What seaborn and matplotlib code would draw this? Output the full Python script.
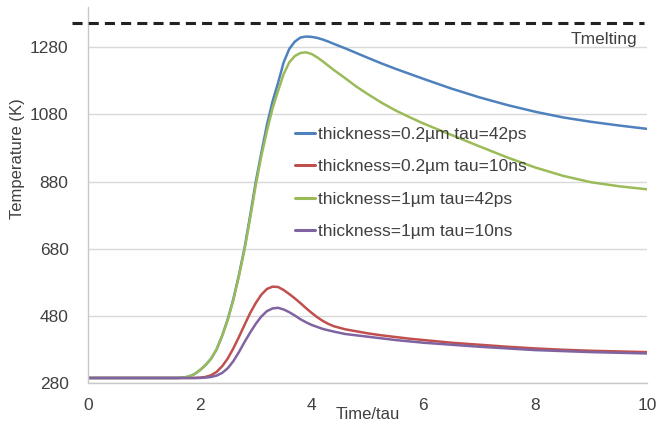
import matplotlib
matplotlib.use("Agg")
import matplotlib.pyplot as plt
import seaborn as sns
import pandas as pd

# Normalised time t/tau
time_tau = [0, 0.5, 1.0, 1.4, 1.6, 1.7, 1.8, 1.9, 2.0, 2.1, 2.2, 2.3, 2.4, 2.5,
            2.6, 2.7, 2.8, 2.9, 3.0, 3.1, 3.2, 3.3, 3.4, 3.5, 3.6, 3.7, 3.8,
            3.9, 4.0, 4.1, 4.2, 4.3, 4.4, 4.6, 4.8, 5.0, 5.25, 5.5, 5.75, 6.0,
            6.5, 7.0, 7.5, 8.0, 8.5, 9.0, 9.5, 10.0]

# Surface temperature (K) for each film / pulse combination
temp_02um_42ps = [295, 295, 295, 295, 295, 296, 299, 306, 318, 333, 352, 380,
                  421, 470, 530, 602, 682, 778, 878, 965, 1048, 1118, 1174,
                  1235, 1275, 1297, 1309, 1312, 1311, 1308, 1303, 1297, 1290,
                  1277, 1263, 1249, 1232, 1216, 1201, 1186, 1157, 1131, 1108,
                  1088, 1071, 1058, 1047, 1037]
temp_02um_10ns = [295, 295, 295, 295, 295, 295, 295, 295, 296, 298, 303, 313,
                  330, 353, 383, 417, 453, 488, 518, 543, 560, 567, 566, 557,
                  545, 532, 518, 503, 489, 476, 465, 456, 449, 440, 434, 428,
                  422, 417, 412, 408, 400, 394, 388, 383, 379, 376, 374, 372]
temp_1um_42ps = [295, 295, 295, 295, 295, 296, 299, 306, 318, 333, 352, 380,
                 420, 468, 527, 598, 677, 770, 868, 955, 1030, 1097, 1150,
                 1200, 1235, 1254, 1263, 1265, 1260, 1250, 1238, 1225, 1212,
                 1188, 1163, 1141, 1115, 1092, 1072, 1053, 1019, 985, 952,
                 922, 897, 878, 866, 857]
temp_1um_10ns = [295, 295, 295, 295, 295, 295, 295, 295, 295, 296, 298, 302,
                 310, 324, 345, 372, 402, 430, 456, 478, 494, 502, 504, 499,
                 491, 481, 470, 461, 453, 447, 441, 437, 433, 426, 422, 418,
                 413, 408, 404, 400, 394, 388, 383, 378, 375, 372, 370, 368]

series_names = ["thickness=0.2\u00b5m tau=42ps",
                "thickness=0.2\u00b5m tau=10ns",
                "thickness=1\u00b5m tau=42ps",
                "thickness=1\u00b5m tau=10ns"]
series_values = [temp_02um_42ps, temp_02um_10ns, temp_1um_42ps, temp_1um_10ns]
series_colors = ["#4F81BD", "#C0504D", "#9BBB59", "#8064A2"]

t_melting = 1353
y_ticks = [280, 480, 680, 880, 1080, 1280]
x_ticks = [0, 2, 4, 6, 8, 10]

frames = []
for name, vals in zip(series_names, series_values):
    frames.append(pd.DataFrame({"time": time_tau, "temp": vals, "series": name}))
df = pd.concat(frames, ignore_index=True)

sns.set_style("white")
plt.rcParams["font.family"] = ["Liberation Sans", "DejaVu Sans"]
text_color = "#404040"

fig = plt.figure(figsize=(6.59, 4.24), dpi=100)
ax = fig.add_axes([88 / 659, 1 - 383 / 424, (647 - 88) / 659, (383 - 7) / 424])

# light horizontal grid underneath the curves
for yv in y_ticks:
    ax.axhline(yv, color="#d9d9d9", lw=1.0, zorder=0)

sns.lineplot(data=df, x="time", y="temp", hue="series", hue_order=series_names,
             palette=dict(zip(series_names, series_colors)), linewidth=1.8,
             ax=ax, legend=True, sort=False)

ax.set_xlim(0, 10)
ax.set_ylim(280, 1400)
ax.set_xticks(x_ticks)
ax.set_yticks(y_ticks)
ax.set_xticklabels([str(v) for v in x_ticks])
ax.set_yticklabels([str(v) for v in y_ticks])

for side in ["top", "right"]:
    ax.spines[side].set_visible(False)
for side in ["left", "bottom"]:
    ax.spines[side].set_color("#c8c8c8")
    ax.spines[side].set_linewidth(1.0)

ax.tick_params(axis="x", direction="out", length=4, width=1.0, color="#c8c8c8",
               labelsize=12.5, labelcolor=text_color, pad=7)
ax.tick_params(axis="y", direction="out", length=0, labelsize=12.5,
               labelcolor=text_color, pad=14)

ax.set_xlabel("Time/tau", fontsize=12, color=text_color)
ax.set_ylabel("Temperature (K)", fontsize=12, color=text_color)
ax.xaxis.set_label_coords(0.5, -0.064)
ax.yaxis.set_label_coords(-0.113, 0.598)

# melting temperature reference
ax.plot([-0.29, 9.95], [t_melting, t_melting], color="#222222", lw=2.2,
        dashes=(3.3, 2.0), clip_on=False, zorder=3)
ax.text(9.82, 1291, "Tmelting", ha="right", va="baseline", fontsize=12.5,
        color=text_color)

leg = ax.legend(loc="upper left", bbox_to_anchor=(295 / 659, 1 - 127 / 424),
                bbox_transform=fig.transFigure, frameon=False, fontsize=12.5,
                handlelength=1.15, handletextpad=0.15, labelspacing=0.99,
                borderpad=0, borderaxespad=0)
for txt in leg.get_texts():
    txt.set_color(text_color)
for line in leg.get_lines():
    line.set_linewidth(2.2)

fig.savefig("out.png", dpi=100)
